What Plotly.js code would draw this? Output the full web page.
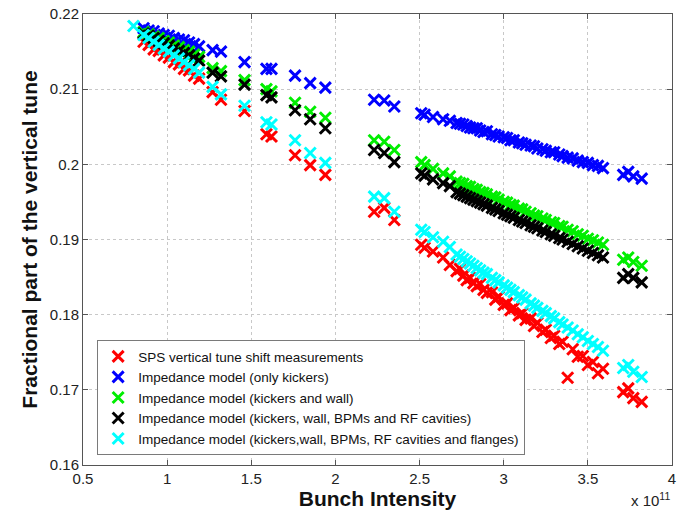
<!DOCTYPE html>
<html>
<head>
<meta charset="utf-8">
<script src="https://cdn.plot.ly/plotly-3.0.1.min.js"></script>
<style>
  html, body { margin: 0; padding: 0; background: #ffffff; }
  #chart { width: 677px; height: 514px; }
</style>
</head>
<body>
<div id="chart"></div>
<script>
// Bunch intensity (x 1e11) shared by all series
const intensity = [
  0.86, 0.89, 0.92, 0.95, 0.98, 1.01, 1.04, 1.07, 1.10, 1.13, 1.16, 1.19,
  1.27, 1.32, 1.46, 1.59, 1.62, 1.76, 1.85, 1.94,
  2.23, 2.29, 2.35,
  2.51, 2.53, 2.58, 2.64, 2.68,
  2.72, 2.74, 2.76, 2.78, 2.80, 2.82, 2.84, 2.86, 2.88, 2.90, 2.93, 2.95, 2.97,
  3.00, 3.02, 3.04, 3.06, 3.09, 3.11, 3.13, 3.16, 3.18, 3.20, 3.23, 3.25, 3.28,
  3.30, 3.33, 3.35, 3.38, 3.41, 3.44, 3.47, 3.50, 3.53, 3.56, 3.59,
  3.71, 3.74, 3.77, 3.82
];

// SPS vertical tune shift measurements (red)
const measured = [
  0.2163, 0.2159, 0.2153, 0.2151, 0.2145, 0.2142, 0.2136, 0.2133, 0.2127, 0.2125, 0.2118, 0.2114,
  0.2096, 0.2086, 0.2071, 0.2040, 0.2037, 0.2012, 0.1999, 0.1986,
  0.1937, 0.1942, 0.1926,
  0.1893, 0.1889, 0.1884, 0.1876, 0.1866,
  0.1858, 0.1861, 0.1852, 0.1846, 0.1849, 0.1842, 0.1838, 0.1841, 0.1833, 0.1829, 0.1830, 0.1820, 0.1824,
  0.1813, 0.1815, 0.1806, 0.1809, 0.1799, 0.1802, 0.1793, 0.1795, 0.1785, 0.1789, 0.1777, 0.1780, 0.1769,
  0.1772, 0.1761, 0.1764, 0.1716, 0.1754, 0.1744, 0.1745, 0.1733, 0.1737, 0.1722, 0.1728,
  0.1697, 0.1702, 0.1689, 0.1684
];

// Impedance model (only kickers) (blue)
const onlyKickers = [
  0.2181, 0.2178, 0.2177, 0.2174, 0.2172, 0.2171, 0.2168, 0.2166, 0.2165, 0.2162, 0.2160, 0.2157,
  0.2152, 0.2150, 0.2136, 0.2127, 0.2127, 0.2118, 0.2108, 0.2102,
  0.2086, 0.2085, 0.2077,
  0.2068, 0.2066, 0.2063, 0.2060, 0.2058,
  0.2055, 0.2054, 0.2053, 0.2051, 0.2049, 0.2048, 0.2048, 0.2045, 0.2043, 0.2044, 0.2040, 0.2039, 0.2037,
  0.2036, 0.2035, 0.2032, 0.2032, 0.2029, 0.2028, 0.2026, 0.2025, 0.2024, 0.2021, 0.2020, 0.2018, 0.2016,
  0.2016, 0.2013, 0.2011, 0.2009, 0.2008, 0.2005, 0.2003, 0.2002, 0.1999, 0.1998, 0.1995,
  0.1986, 0.1990, 0.1984, 0.1981
];

// Impedance model (kickers and wall) (green)
const kickersWall = [
  0.2176, 0.2173, 0.2170, 0.2168, 0.2164, 0.2162, 0.2158, 0.2156, 0.2152, 0.2150, 0.2146, 0.2143,
  0.2128, 0.2124, 0.2112, 0.2100, 0.2097, 0.2082, 0.2070, 0.2062,
  0.2032, 0.2030, 0.2019,
  0.2003, 0.1999, 0.1994, 0.1988, 0.1984,
  0.1977, 0.1975, 0.1974, 0.1971, 0.1970, 0.1967, 0.1966, 0.1963, 0.1962, 0.1960, 0.1957, 0.1956, 0.1953,
  0.1950, 0.1949, 0.1946, 0.1945, 0.1941, 0.1940, 0.1937, 0.1935, 0.1932, 0.1931, 0.1928, 0.1926, 0.1923,
  0.1922, 0.1918, 0.1917, 0.1913, 0.1911, 0.1907, 0.1905, 0.1901, 0.1899, 0.1896, 0.1893,
  0.1873, 0.1876, 0.1870, 0.1865
];

// Impedance model (kickers, wall, BPMs and RF cavities) (black)
const kickersWallBpmRf = [
  0.2174, 0.2171, 0.2168, 0.2164, 0.2161, 0.2158, 0.2154, 0.2151, 0.2148, 0.2145, 0.2141, 0.2138,
  0.2122, 0.2117, 0.2106, 0.2092, 0.2089, 0.2072, 0.2060, 0.2048,
  0.2019, 0.2015, 0.2003,
  0.1988, 0.1985, 0.1980, 0.1975, 0.1971,
  0.1963, 0.1961, 0.1959, 0.1957, 0.1955, 0.1953, 0.1951, 0.1949, 0.1947, 0.1945, 0.1942, 0.1940, 0.1938,
  0.1935, 0.1933, 0.1931, 0.1929, 0.1926, 0.1924, 0.1922, 0.1919, 0.1917, 0.1915, 0.1912, 0.1910, 0.1907,
  0.1905, 0.1902, 0.1900, 0.1897, 0.1894, 0.1891, 0.1888, 0.1885, 0.1882, 0.1879, 0.1876,
  0.1849, 0.1854, 0.1849, 0.1843
];

// Impedance model (kickers, wall, BPMs, RF cavities and flanges) (cyan)
const cyanLeadX = [0.80];
const cyanLeadY = [0.2184];
const fullModel = [
  0.2172, 0.2168, 0.2163, 0.2159, 0.2154, 0.2150, 0.2145, 0.2141, 0.2136, 0.2132, 0.2127, 0.2122,
  0.2103, 0.2093, 0.2078, 0.2056, 0.2053, 0.2032, 0.2015, 0.2002,
  0.1957, 0.1955, 0.1937,
  0.1913, 0.1910, 0.1903, 0.1897, 0.1890,
  0.1880, 0.1877, 0.1874, 0.1871, 0.1868, 0.1865, 0.1862, 0.1859, 0.1856, 0.1854, 0.1849, 0.1846, 0.1843,
  0.1839, 0.1836, 0.1833, 0.1830, 0.1826, 0.1823, 0.1820, 0.1815, 0.1812, 0.1809, 0.1805, 0.1802, 0.1798,
  0.1795, 0.1790, 0.1787, 0.1783, 0.1779, 0.1774, 0.1770, 0.1765, 0.1761, 0.1757, 0.1752,
  0.1729, 0.1733, 0.1724, 0.1717
];

const seriesNames = [
  'SPS vertical tune shift measurements',
  'Impedance model (only kickers)',
  'Impedance model (kickers and wall)',
  'Impedance model (kickers, wall, BPMs and RF cavities)',
  'Impedance model (kickers,wall, BPMs, RF cavities and flanges)'
];
const seriesColors = ['#ff0000', '#0000ff', '#00ee00', '#000000', '#00ffff'];

const xTickVals = [0.5, 1, 1.5, 2, 2.5, 3, 3.5, 4];
const xTickText = ['0.5', '1', '1.5', '2', '2.5', '3', '3.5', '4'];
const yTickVals = [0.16, 0.17, 0.18, 0.19, 0.20, 0.21, 0.22];
const yTickText = ['0.16', '0.17', '0.18', '0.19', '0.2', '0.21', '0.22'];

const ys = [measured, onlyKickers, kickersWall, kickersWallBpmRf, fullModel];
const traces = ys.map((y, i) => {
  const isCyan = i === 4;
  return {
    type: 'scatter',
    mode: 'markers',
    name: seriesNames[i],
    x: isCyan ? cyanLeadX.concat(intensity) : intensity,
    y: isCyan ? cyanLeadY.concat(y) : y,
    marker: {
      symbol: 'x-thin',
      size: 11,
      color: seriesColors[i],
      line: { color: seriesColors[i], width: 3 }
    }
  };
});

const FONT = 'Liberation Sans, Arial, sans-serif';

const layout = {
  width: 677,
  height: 514,
  margin: { l: 83, r: 5, t: 14, b: 49 },
  paper_bgcolor: '#ffffff',
  plot_bgcolor: '#ffffff',
  showlegend: true,
  legend: {
    x: 0.024, y: 0.022, xanchor: 'left', yanchor: 'bottom',
    bgcolor: '#ffffff',
    bordercolor: '#7a7a7a',
    borderwidth: 1,
    font: { family: FONT, size: 13.5, color: '#111111' },
    tracegroupgap: 0
  },
  xaxis: {
    range: [0.5, 4],
    tickmode: 'array',
    tickvals: xTickVals,
    ticktext: xTickText,
    ticks: 'inside',
    ticklen: 5,
    tickcolor: '#555555',
    showline: true,
    linecolor: '#555555',
    linewidth: 1,
    mirror: 'ticks',
    showgrid: true,
    gridcolor: '#c8c8c8',
    griddash: 'dot',
    zeroline: false,
    tickfont: { family: FONT, size: 15, color: '#222222' },
    title: { text: 'Bunch Intensity', font: { family: FONT, size: 21, color: '#111111', weight: 'bold' }, standoff: 4 }
  },
  yaxis: {
    range: [0.16, 0.22],
    tickmode: 'array',
    tickvals: yTickVals,
    ticktext: yTickText,
    ticks: 'inside',
    ticklen: 5,
    tickcolor: '#555555',
    showline: true,
    linecolor: '#555555',
    linewidth: 1,
    mirror: 'ticks',
    showgrid: true,
    gridcolor: '#c8c8c8',
    griddash: 'dot',
    zeroline: false,
    tickfont: { family: FONT, size: 15, color: '#222222' },
    title: { text: 'Fractional part of the vertical tune', font: { family: FONT, size: 21, color: '#111111', weight: 'bold' }, standoff: 6 }
  },
  annotations: [{
    xref: 'paper', yref: 'paper', x: 1.0, y: -0.05,
    xanchor: 'right', yanchor: 'top', showarrow: false,
    text: 'x 10<sup>11</sup>',
    font: { family: FONT, size: 15, color: '#222222' }
  }]
};

Plotly.newPlot('chart', traces, layout, { displayModeBar: false, staticPlot: true });
</script>
</body>
</html>
